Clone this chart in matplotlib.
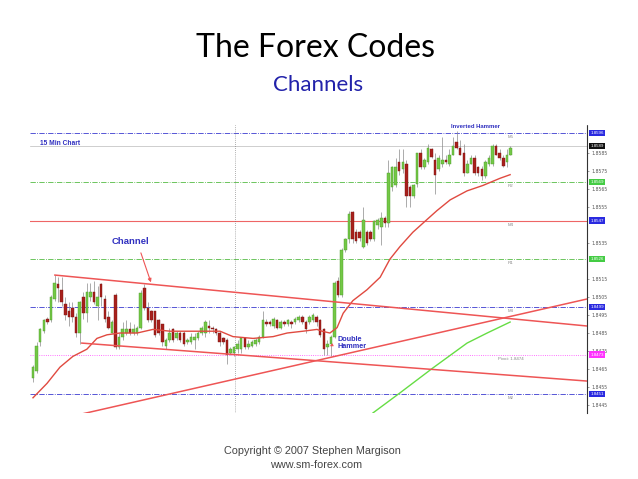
import matplotlib
matplotlib.use("Agg")
import matplotlib.pyplot as plt
import numpy as np

# ---- candle data (15 min bars), prices in pips * 1e-4 ----
opens = [18460, 18464, 18480, 18486, 18493, 18492, 18504, 18512, 18509, 18501,
         18497, 18499, 18494, 18485, 18505, 18496, 18505, 18508, 18500, 18512,
         18504, 18494, 18485, 18506, 18477, 18483, 18485, 18487, 18485, 18485,
         18488, 18510, 18499, 18497, 18497, 18492, 18490, 18478, 18481, 18487,
         18482, 18485, 18485, 18480, 18480, 18481, 18482, 18485, 18485, 18489,
         18488, 18487, 18485, 18482, 18481, 18474, 18474, 18476, 18476, 18482,
         18477, 18478, 18479, 18480, 18483, 18491, 18491, 18489, 18492, 18488,
         18491, 18490, 18491, 18491, 18492, 18494, 18491, 18491, 18492, 18494,
         18492, 18487, 18477, 18479, 18483, 18514, 18506, 18531, 18537, 18552,
         18541, 18541, 18533, 18541, 18541, 18537, 18545, 18544, 18549, 18546,
         18566, 18567, 18580, 18576, 18579, 18566, 18561, 18568, 18585, 18577,
         18580, 18587, 18581, 18576, 18579, 18581, 18579, 18584, 18591, 18588,
         18585, 18574, 18579, 18582, 18577, 18576, 18572, 18579, 18579, 18589,
         18585, 18582, 18580, 18584]
highs = [18467, 18480, 18488, 18493, 18494, 18506, 18517, 18516, 18516, 18505,
         18502, 18502, 18496, 18503, 18508, 18513, 18513, 18514, 18511, 18513,
         18506, 18497, 18492, 18507, 18485, 18491, 18492, 18491, 18490, 18489,
         18509, 18512, 18502, 18498, 18497, 18493, 18490, 18482, 18488, 18488,
         18486, 18486, 18486, 18482, 18485, 18485, 18486, 18489, 18492, 18492,
         18489, 18488, 18486, 18483, 18482, 18477, 18478, 18481, 18483, 18483,
         18481, 18481, 18482, 18484, 18497, 18493, 18492, 18494, 18493, 18492,
         18492, 18493, 18492, 18494, 18495, 18495, 18492, 18495, 18496, 18495,
         18493, 18488, 18481, 18484, 18514, 18516, 18532, 18538, 18553, 18553,
         18543, 18542, 18555, 18542, 18542, 18548, 18549, 18552, 18550, 18581,
         18578, 18582, 18587, 18587, 18581, 18567, 18568, 18585, 18587, 18582,
         18590, 18588, 18585, 18584, 18594, 18584, 18587, 18594, 18597, 18592,
         18590, 18581, 18584, 18584, 18578, 18578, 18581, 18584, 18590, 18590,
         18587, 18584, 18587, 18589]
lows = [18458, 18463, 18478, 18485, 18490, 18491, 18503, 18502, 18500, 18492,
        18489, 18491, 18483, 18479, 18493, 18491, 18503, 18501, 18492, 18500,
        18491, 18487, 18485, 18476, 18476, 18481, 18484, 18484, 18484, 18484,
        18487, 18498, 18491, 18491, 18483, 18484, 18478, 18476, 18480, 18480,
        18481, 18480, 18478, 18479, 18479, 18476, 18481, 18484, 18483, 18485,
        18485, 18484, 18478, 18479, 18468, 18473, 18472, 18474, 18474, 18476,
        18476, 18477, 18478, 18479, 18482, 18489, 18489, 18488, 18487, 18487,
        18489, 18489, 18488, 18490, 18491, 18490, 18485, 18490, 18491, 18489,
        18483, 18473, 18473, 18472, 18482, 18505, 18505, 18530, 18535, 18535,
        18535, 18536, 18532, 18534, 18536, 18536, 18543, 18534, 18544, 18544,
        18564, 18566, 18573, 18574, 18555, 18555, 18560, 18566, 18576, 18576,
        18579, 18582, 18562, 18575, 18577, 18579, 18578, 18584, 18587, 18584,
        18572, 18574, 18579, 18573, 18572, 18570, 18571, 18578, 18578, 18584,
        18581, 18577, 18577, 18584]
closes = [18466, 18478, 18487, 18492, 18491, 18505, 18513, 18510, 18502, 18495,
          18494, 18494, 18485, 18502, 18496, 18508, 18508, 18502, 18505, 18505,
          18493, 18488, 18491, 18477, 18483, 18487, 18487, 18485, 18487, 18488,
          18507, 18499, 18492, 18492, 18484, 18485, 18480, 18481, 18485, 18481,
          18485, 18481, 18479, 18481, 18483, 18483, 18485, 18488, 18491, 18488,
          18487, 18485, 18480, 18480, 18473, 18476, 18477, 18479, 18482, 18477,
          18479, 18480, 18481, 18483, 18492, 18490, 18490, 18493, 18488, 18491,
          18490, 18492, 18490, 18493, 18494, 18491, 18487, 18494, 18495, 18491,
          18484, 18476, 18479, 18483, 18513, 18506, 18531, 18537, 18551, 18537,
          18536, 18538, 18548, 18535, 18537, 18547, 18548, 18549, 18546, 18574,
          18577, 18577, 18575, 18580, 18561, 18561, 18567, 18585, 18577, 18581,
          18588, 18583, 18573, 18582, 18581, 18580, 18584, 18589, 18588, 18584,
          18574, 18579, 18582, 18574, 18574, 18572, 18580, 18582, 18589, 18584,
          18582, 18578, 18584, 18588]

# moving average (red curve) and slower average (green)
ma_idx = [0, 3.9, 7.5, 11.1, 15.0, 17.8, 20.6, 24.2, 29.0, 33.4, 38.2, 42.9, 52.1,
          55.7, 61.3, 66.9, 70.8, 75.2, 79.1, 80.5, 82.7, 84.7, 86.4, 89.1, 93.0,
          96.7, 99.4, 102.2, 105.8, 109.7, 112.5, 116.2, 120.9, 125.3, 130.1, 132.9]
ma_val = [18449, 18457, 18466, 18472, 18476, 18482, 18484, 18485, 18485, 18487,
          18486, 18486, 18486, 18483, 18482, 18483, 18485, 18486, 18487, 18486,
          18485, 18488, 18496, 18503, 18509, 18516, 18526, 18533, 18541, 18548,
          18553, 18559, 18564, 18567, 18571, 18573]
slow_idx = [94.7, 102.2, 111.4, 120.9, 126.5, 132.9]
slow_val = [18440.6, 18451.7, 18465.6, 18479.4, 18485.0, 18491.1]

# hand drawn trend lines: (start idx, start price, end idx, end price)
upper_channel = (6.1, 18517.2, 154.3, 18488.9)
lower_channel = (13.6, 18479.4, 154.3, 18458.3)
rising_line = (13.6, 18440.0, 154.3, 18503.9)

# pivot levels
level_names = ["M5", "R2", "M4", "R1", "M3", "Pivot: 1.8474", "M2"]
level_vals = [1.8596, 1.8569, 1.85475, 1.8526, 1.84995, 1.8473, 1.8451]
level_colors = ["#3a3ad0", "#55bb44", "#3a3ad0", "#55bb44", "#3a3ad0", "#ff44ff", "#3a3ad0"]
level_styles = ["dashdot", "dashdot", "dashdot", "dashdot", "dashdot", "dotted", "dashdot"]
last_price = 1.8589

tick_vals = [1.8445, 1.8455, 1.8465, 1.8475, 1.8485, 1.8495, 1.8505, 1.8515,
             1.8535, 1.8555, 1.8565, 1.8575, 1.8585]

sc = 1e-4
o = np.array(opens) * sc
h = np.array(highs) * sc
l = np.array(lows) * sc
c = np.array(closes) * sc
x = np.arange(len(o))

fig = plt.figure(figsize=(6.38, 4.79), dpi=100)
fig.patch.set_facecolor("white")

fig.text(0.495, 0.881, "The Forex Codes", ha="center", va="baseline",
         fontsize=23, family="Lato", color="black")
fig.text(0.498, 0.811, "Channels", ha="center", va="baseline",
         fontsize=16, family="Lato", color="#2222aa")
fig.text(0.49, 0.052, "Copyright \u00a9 2007 Stephen Margison", ha="center",
         fontsize=7.8, family="Liberation Sans", color="#444444")
fig.text(0.495, 0.024, "www.sm-forex.com", ha="center",
         fontsize=7.8, family="Liberation Sans", color="#444444")

ax = fig.add_axes([0.047, 0.138, 0.873, 0.601])
ax.set_xlim(-0.84, 154.3)
ax.set_ylim(1.84406, 1.86006)

# levels
for v, col, ls in zip(level_vals, level_colors, level_styles):
    ax.axhline(v, color=col, lw=0.6, ls=ls, zorder=1)
ax.axhline(level_vals[2], color="#ee6666", lw=0.8, zorder=1)
ax.axhline(last_price, color="#bbbbbb", lw=0.5, zorder=1)
ax.axvline(56.3, color="#666666", lw=0.5, ls=(0, (1, 2)), zorder=1)

for name, v in zip(level_names, level_vals):
    ax.text(133, v - 0.00012, name, fontsize=3.2, color="#888888",
            ha="center", va="top", family="Liberation Sans")

# candles
up = c >= o
ax.vlines(x, l, h, color="#8a8a8a", lw=0.5, zorder=2)
body_lo = np.minimum(o, c)
body_h = np.maximum(np.abs(c - o), 0.00004)
ax.bar(x[up], body_h[up], bottom=body_lo[up], width=0.7,
       color="#74c846", edgecolor="#4a9a2a", lw=0.3, zorder=3)
ax.bar(x[~up], body_h[~up], bottom=body_lo[~up], width=0.7,
       color="#a8201c", edgecolor="#7a1512", lw=0.3, zorder=3)

# averages
ax.plot(ma_idx, np.array(ma_val) * sc, color="#e04a40", lw=1.0, zorder=4)
ax.plot(slow_idx, np.array(slow_val) * sc, color="#66dd44", lw=1.0, zorder=4)

# trend lines
for x0, y0, x1, y1 in [upper_channel, lower_channel, rising_line]:
    ax.plot([x0, x1], [y0 * sc, y1 * sc], color="#ee5555", lw=1.1, zorder=4)

# annotations
ax.text(0.018, 0.9375, "15 Min Chart", transform=ax.transAxes, fontsize=4.8,
        color="#3030c0", fontweight="bold", va="center", family="Liberation Sans")
ax.text(0.146, 0.594, "Channel", transform=ax.transAxes, fontsize=6.8,
        color="#3030c0", fontweight="bold", va="center", family="Liberation Sans")
ax.annotate("", xy=(33.1, 1.85117), xytext=(29.8, 1.85310),
            arrowprops=dict(arrowstyle="-|>", color="#ee5555", lw=0.8,
                            mutation_scale=5), zorder=5)
ax.text(84.8, 1.84832, "Double\nHammer", fontsize=5.2, color="#3030c0",
        fontweight="bold", va="top", ha="left", family="Liberation Sans",
        linespacing=1.0)
ax.annotate("", xy=(82.0, 1.84770), xytext=(83.9, 1.84788),
            arrowprops=dict(arrowstyle="-|>", color="#ee5555", lw=0.6,
                            mutation_scale=4), zorder=5)
ax.text(0.80, 0.995, "Inverted Hammer", transform=ax.transAxes, fontsize=4.3,
        color="#3030c0", fontweight="bold", ha="center", va="center",
        family="Liberation Sans")

# right price axis
for sp in ["top", "left", "bottom"]:
    ax.spines[sp].set_visible(False)
ax.spines["right"].set_linestyle((0, (1, 1)))
ax.spines["right"].set_color("#333333")
ax.spines["right"].set_linewidth(0.8)
ax.set_xticks([])
ax.yaxis.tick_right()
ax.set_yticks(tick_vals)
ax.set_yticklabels(["%.4f" % t for t in tick_vals])
ax.tick_params(axis="y", labelsize=3.3, colors="#555555", length=1.5,
               width=0.4, pad=1.5)

box_vals = [level_vals[0], last_price, level_vals[1], level_vals[2],
            level_vals[3], level_vals[4], level_vals[5], level_vals[6]]
box_cols = ["#2a2ae0", "#111111", "#44cc44", "#2a2ae0", "#44cc44", "#2a2ae0",
            "#ff33ff", "#2a2ae0"]
for v, col in zip(box_vals, box_cols):
    ax.annotate("%.4f" % v, xy=(1.006, v), xycoords=("axes fraction", "data"),
                fontsize=3.2, color="white", va="center", ha="left",
                family="Liberation Sans", annotation_clip=False, zorder=6,
                bbox=dict(boxstyle="square,pad=0.25", fc=col, ec="none"))

fig.savefig("out.png", dpi=100)
